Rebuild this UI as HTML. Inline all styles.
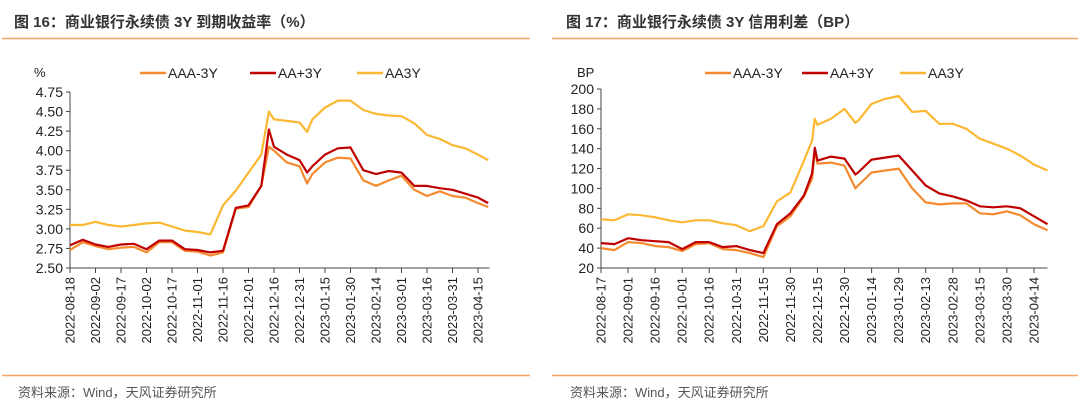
<!DOCTYPE html>
<html><head><meta charset="utf-8">
<style>
body{margin:0;width:1080px;height:412px;background:#fff;overflow:hidden;font-family:"Liberation Sans","Noto Sans CJK SC",sans-serif;}
svg{position:absolute;left:0;top:0}
</style></head>
<body>
<svg id="c" width="1080" height="412"></svg>
<script>
const leftDates=["2022-08-18","2022-09-02","2022-09-17","2022-10-02","2022-10-17","2022-11-01","2022-11-16","2022-12-01","2022-12-16","2022-12-31","2023-01-15","2023-01-30","2023-02-14","2023-03-01","2023-03-16","2023-03-31","2023-04-15"];
const rightDates=["2022-08-17","2022-09-01","2022-09-16","2022-10-01","2022-10-16","2022-10-31","2022-11-15","2022-11-30","2022-12-15","2022-12-30","2023-01-14","2023-01-29","2023-02-13","2023-02-28","2023-03-15","2023-03-30","2023-04-14"];
const leftTicks=["2.50","2.75","3.00","3.25","3.50","3.75","4.00","4.25","4.50","4.75"];
const rightTicks=["20","40","60","80","100","120","140","160","180","200"];
const leftX=[0,0.5,1,1.5,2,2.5,3,3.5,4,4.5,5,5.5,6,6.5,7,7.5,7.8,8,8.5,9,9.3,9.5,10,10.5,11,11.5,12,12.5,13,13.5,14,14.5,15,15.5,16,16.4];
const leftAAA=[2.73,2.83,2.78,2.74,2.76,2.77,2.70,2.83,2.83,2.72,2.71,2.66,2.70,3.26,3.28,3.55,4.05,4.00,3.85,3.80,3.58,3.70,3.85,3.91,3.90,3.62,3.55,3.62,3.68,3.50,3.42,3.48,3.42,3.40,3.33,3.28];
const leftAAp=[2.79,2.86,2.80,2.77,2.80,2.81,2.74,2.85,2.85,2.74,2.73,2.70,2.72,3.27,3.30,3.55,4.27,4.05,3.95,3.88,3.72,3.80,3.95,4.03,4.04,3.75,3.70,3.74,3.72,3.55,3.55,3.52,3.50,3.45,3.40,3.33];
const leftAA=[3.05,3.05,3.09,3.05,3.03,3.05,3.07,3.08,3.03,2.98,2.96,2.93,3.30,3.49,3.72,3.95,4.50,4.40,4.38,4.36,4.24,4.40,4.55,4.64,4.64,4.52,4.47,4.45,4.44,4.35,4.20,4.15,4.07,4.03,3.95,3.88];
const rightX=[0,0.5,1,1.5,2,2.5,3,3.5,4,4.5,5,5.5,6,6.5,7,7.5,7.8,7.9,8,8.5,9,9.4,9.5,10,10.5,11,11.5,12,12.5,13,13.5,14,14.5,15,15.5,16,16.5];
const rightAAA=[40,38,46,45,42,41,37,44,45,39,38,35,31,62,72,92,110,138,125,126,123,100,103,116,118,120,100,86,84,85,85,75,74,77,73,64,58];
const rightAAp=[45,44,50,48,47,46,39,46,46,41,42,38,35,64,75,93,115,141,128,132,130,114,116,129,131,133,118,103,95,92,88,82,81,82,80,72,64];
const rightAA=[69,68,74,73,71,68,66,68,68,65,63,57,62,87,96,128,148,170,164,170,180,166,168,185,190,193,177,178,165,165,160,150,145,140,133,124,118];

const NS="http://www.w3.org/2000/svg";
const svg=document.getElementById('c');
function mk(tag,attrs,parent){const e=document.createElementNS(NS,tag);for(const k in attrs)e.setAttribute(k,attrs[k]);(parent||svg).appendChild(e);return e;}
function txt(s,attrs){const t=mk('text',attrs);t.textContent=s;return t;}

function panel(o){
  const g=mk('g',{});
  
  
  const yv=v=>o.y0+(v-o.vmin)/(o.vmax-o.vmin)*(o.y1-o.y0);
  const xv=t=>o.ax+t*o.step;
  let t=txt(o.title,{x:o.tx,y:27,'font-size':15,'font-weight':'bold',fill:'#333','font-family':'"Liberation Sans","Noto Sans CJK SC",sans-serif'});
  
  let l=mk('line',{x1:o.lx0,x2:o.lx1,y1:38.5,y2:38.5,stroke:'#F4A460','stroke-width':1.5});
  
  l=mk('line',{x1:o.lx0,x2:o.lx1,y1:375.5,y2:375.5,stroke:'#F4A460','stroke-width':1.5});
  
  t=txt('资料来源：Wind，天风证券研究所',{x:o.tx+4,y:397,'font-size':13,fill:'#555'});
  
  t=txt(o.unit,{x:o.ux,y:77,'font-size':13,fill:'#222'});
  
  // y ticks
  o.yt.forEach(s=>{const y=yv(parseFloat(s));
    const e=txt(s,{x:o.ax-7,y:y+5,'font-size':14,fill:'#222','text-anchor':'end'});
    
    mk('line',{x1:o.ax-4,x2:o.ax,y1:y,y2:y,stroke:'#444','stroke-width':1});
  });
  const end=xv(o.xend);
  let a=mk('line',{x1:o.ax,x2:o.ax,y1:o.y1,y2:o.y0,stroke:'#444','stroke-width':1});
  
  a=mk('line',{x1:o.ax,x2:end,y1:o.y0,y2:o.y0,stroke:'#444','stroke-width':1});
  
  o.dates.forEach((d,i)=>{const x=xv(i);
    mk('line',{x1:x,x2:x,y1:o.y0,y2:o.y0+5,stroke:'#444','stroke-width':1});
    const e=txt(d,{x:0,y:0,'font-size':13,fill:'#222','text-anchor':'end',transform:`translate(${x+4.5},${o.y0+9}) rotate(-90)`});
    
  });
  o.series.forEach(s=>{
    const d=o.xs.map((x,i)=>(i?'L':'M')+xv(x).toFixed(1)+','+yv(s.v[i]).toFixed(1)).join(' ');
    const p=mk('path',{d:d,fill:'none',stroke:s.c,'stroke-width':2.2,'stroke-linejoin':'round'});
    
    const lg=mk('line',{x1:s.lx,x2:s.lx+26,y1:73,y2:73,stroke:s.c,'stroke-width':2.5});
    
    const lt=txt(s.name,{x:s.lx+28,y:78,'font-size':14,fill:'#222'});
    
  });
}
panel({name:'yield-chart',title:'图 16：商业银行永续债 3Y 到期收益率（%）',tx:14,lx0:2,lx1:530,unit:'%',ux:34,
  ax:70,step:25.5,xend:16.45,y0:268,y1:92,vmin:2.5,vmax:4.75,yt:leftTicks,dates:leftDates,xs:leftX,
  series:[{key:'aaa',name:'AAA-3Y',v:leftAAA,c:'#F58A2E',lx:140},{key:'aa-plus',name:'AA+3Y',v:leftAAp,c:'#C00000',lx:250},{key:'aa',name:'AA3Y',v:leftAA,c:'#FBB832',lx:357}]});
panel({name:'spread-chart',title:'图 17：商业银行永续债 3Y 信用利差（BP）',tx:566,lx0:552,lx1:1078,unit:'BP',ux:577,
  ax:601,step:27.06,xend:16.5,y0:268,y1:89,vmin:20,vmax:200,yt:rightTicks,dates:rightDates,xs:rightX,
  series:[{key:'aaa',name:'AAA-3Y',v:rightAAA,c:'#F58A2E',lx:705},{key:'aa-plus',name:'AA+3Y',v:rightAAp,c:'#C00000',lx:802},{key:'aa',name:'AA3Y',v:rightAA,c:'#FBB832',lx:900}]});
</script>
</body></html>
